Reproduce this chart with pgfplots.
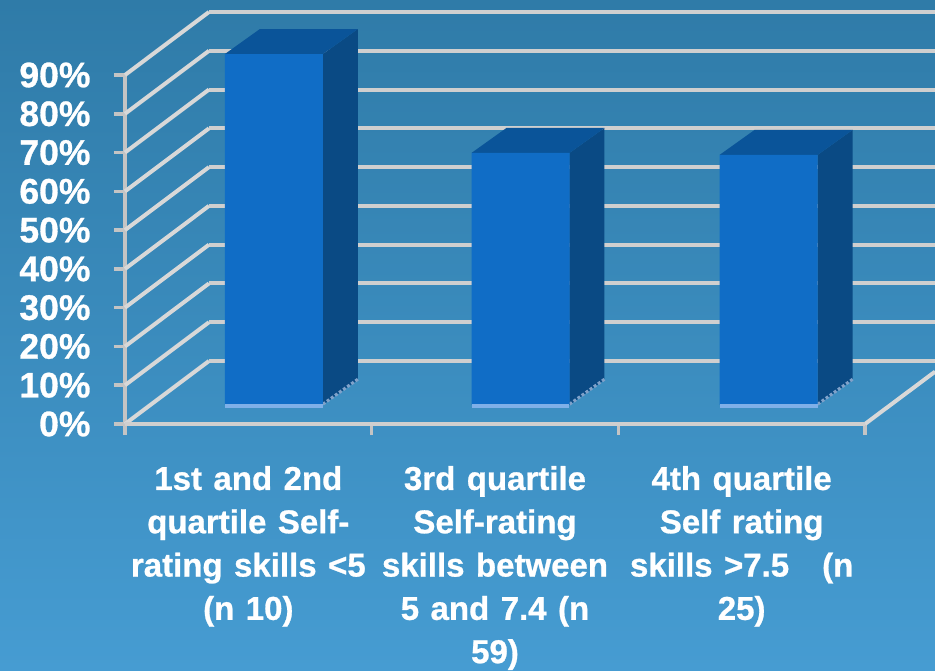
\documentclass[border=0pt]{standalone}
\usepackage{pgfplots}
\pgfplotsset{compat=1.18}
\usepackage{fontspec}
\setmainfont{Liberation Sans}[BoldFont={Liberation Sans Bold},BoldFeatures={FakeBold=0.8,WordSpace=1.25}]
\definecolor{bgtop}{HTML}{2F7BA8}
\definecolor{bgbot}{HTML}{469CD2}
\definecolor{gridc}{HTML}{CFCFCF}
\definecolor{diagc}{HTML}{D8D8D8}
\definecolor{axc}{HTML}{C4C4C4}
\definecolor{front}{HTML}{106DC6}
\definecolor{sidec}{HTML}{0A4A84}
\definecolor{topc}{HTML}{0A5499}
\definecolor{strip}{HTML}{7FB0E8}
\begin{document}
\begin{tikzpicture}[x=1pt,y=1pt]
\shade[top color=bgtop,bottom color=bgbot,use as bounding box] (0,0) rectangle (935,670);
\begin{axis}[
  at={(125pt,246pt)},anchor=south west,scale only axis,
  width=740pt,height=349pt,
  xmin=0,xmax=3,ymin=0,ymax=90,
  clip=false,
  axis x line=bottom,axis y line=left,
  axis line style={-,draw=axc,line width=3.5pt},
  tick align=outside,
  major tick length=11pt,
  tick style={draw=axc,line width=3.5pt},
  xtick={0,1,2,3},xticklabels={,,,},
  ytick={0,10,20,30,40,50,60,70,80,90},
  yticklabels={0\%,10\%,20\%,30\%,40\%,50\%,60\%,70\%,80\%,90\%},
  yticklabel style={font=\fontsize{35.5}{35.5}\selectfont\bfseries,text=white,anchor=east,xshift=-20pt},
  extra x ticks={0.5,1.5,2.5},
  extra x tick labels={{1st and 2nd\\quartile Self-\\rating skills <5\\(n 10)},{3rd quartile\\Self-rating\\skills between\\5 and 7.4 (n\\59)},{4th quartile\\Self rating\\skills >7.5\quad(n\\25)}},
  extra x tick style={major tick length=0pt,tick style={draw=none},
    xticklabel style={font=\fontsize{33}{43.3}\selectfont\bfseries,text=white,align=center,anchor=north,yshift=-38.5pt}},
]
\addplot[forget plot,gridc,line width=4pt] coordinates {(0.3405,106.25)(3.284,106.25)};
\addplot[forget plot,gridc,line width=4pt] coordinates {(0.3405,96.25)(3.284,96.25)};
\addplot[forget plot,gridc,line width=4pt] coordinates {(0.3405,86.25)(3.284,86.25)};
\addplot[forget plot,gridc,line width=4pt] coordinates {(0.3405,76.25)(3.284,76.25)};
\addplot[forget plot,gridc,line width=4pt] coordinates {(0.3405,66.25)(3.284,66.25)};
\addplot[forget plot,gridc,line width=4pt] coordinates {(0.3405,56.25)(3.284,56.25)};
\addplot[forget plot,gridc,line width=4pt] coordinates {(0.3405,46.25)(3.284,46.25)};
\addplot[forget plot,gridc,line width=4pt] coordinates {(0.3405,36.25)(3.284,36.25)};
\addplot[forget plot,gridc,line width=4pt] coordinates {(0.3405,26.25)(3.284,26.25)};
\addplot[forget plot,gridc,line width=4pt] coordinates {(0.3405,16.25)(3.284,16.25)};
\addplot[forget plot,diagc,line width=4pt] coordinates {(0,90)(0.3405,106.25)};
\addplot[forget plot,diagc,line width=4pt] coordinates {(0,80)(0.3405,96.25)};
\addplot[forget plot,diagc,line width=4pt] coordinates {(0,70)(0.3405,86.25)};
\addplot[forget plot,diagc,line width=4pt] coordinates {(0,60)(0.3405,76.25)};
\addplot[forget plot,diagc,line width=4pt] coordinates {(0,50)(0.3405,66.25)};
\addplot[forget plot,diagc,line width=4pt] coordinates {(0,40)(0.3405,56.25)};
\addplot[forget plot,diagc,line width=4pt] coordinates {(0,30)(0.3405,46.25)};
\addplot[forget plot,diagc,line width=4pt] coordinates {(0,20)(0.3405,36.25)};
\addplot[forget plot,diagc,line width=4pt] coordinates {(0,10)(0.3405,26.25)};
\addplot[forget plot,diagc,line width=4pt] coordinates {(0,0)(0.3405,16.25)};
\addplot[forget plot,diagc,line width=4pt] coordinates {(3,0)(3.284,13.5)};
\addplot[forget plot,gridc,line width=4pt] coordinates {(0,0)(3,0)};
\end{axis}
\begin{axis}[
  at={(150.5pt,265pt)},anchor=south west,scale only axis,
  width=740pt,height=349pt,
  xmin=0,xmax=3,ymin=0,ymax=90,
  clip=false,axis lines=none,
]
% side faces
\addplot[forget plot,fill=sidec,draw=none] coordinates {(0.6986,0)(0.8405,6.45)(0.8405,96.95)(0.6986,90.5)} -- cycle;
\addplot[forget plot,fill=sidec,draw=none] coordinates {(1.6986,0)(1.8405,6.45)(1.8405,71.45)(1.6986,65)} -- cycle;
\addplot[forget plot,fill=sidec,draw=none] coordinates {(2.7046,0)(2.8465,6.45)(2.8465,70.95)(2.7046,64.5)} -- cycle;
% top faces
\addplot[forget plot,fill=topc,draw=none] coordinates {(0.3014,90.5)(0.4433,96.95)(0.8405,96.95)(0.6986,90.5)} -- cycle;
\addplot[forget plot,fill=topc,draw=none] coordinates {(1.3014,65)(1.4433,71.45)(1.8405,71.45)(1.6986,65)} -- cycle;
\addplot[forget plot,fill=topc,draw=none] coordinates {(2.3074,64.5)(2.4493,70.95)(2.8465,70.95)(2.7046,64.5)} -- cycle;
% dashed bottom edge of side faces
\addplot[forget plot,draw=strip!70!gray,line width=3pt,dash pattern=on 3pt off 2pt] coordinates {(0.6986,0.2)(0.8405,6.65)};
\addplot[forget plot,draw=strip!70!gray,line width=3pt,dash pattern=on 3pt off 2pt] coordinates {(1.6986,0.2)(1.8405,6.65)};
\addplot[forget plot,draw=strip!70!gray,line width=3pt,dash pattern=on 3pt off 2pt] coordinates {(2.7046,0.2)(2.8465,6.65)};
% front faces
\addplot[ybar,bar width=98pt,fill=front,draw=none] coordinates {(0.5,90.5)(1.5,65)(2.506,64.5)};
% lighter foot of the front faces
\addplot[forget plot,strip,line width=4pt] coordinates {(0.3014,-0.25)(0.6986,-0.25)};
\addplot[forget plot,strip,line width=4pt] coordinates {(1.3014,-0.25)(1.6986,-0.25)};
\addplot[forget plot,strip,line width=4pt] coordinates {(2.3074,-0.25)(2.7046,-0.25)};
\end{axis}
\end{tikzpicture}
\end{document}
